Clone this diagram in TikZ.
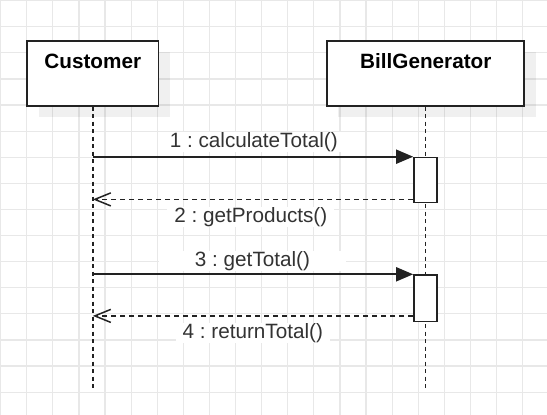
\documentclass[tikz,border=0pt]{standalone}
\usepackage{fontspec}
\setmainfont{Liberation Sans}
\usepackage{xcolor}
\usepackage{tikz}
\usetikzlibrary{arrows.meta, shadows, positioning}
\definecolor{gridgray}{RGB}{232,232,232}
\definecolor{umldark}{RGB}{34,34,34}
\definecolor{labelgray}{RGB}{51,51,51}
\frenchspacing
\tikzset{
  headbox/.style={draw=umldark, line width=1.7pt, fill=white, minimum height=65pt,
      inner sep=0pt, anchor=north,
      drop shadow={shadow xshift=11.5pt, shadow yshift=-11.5pt, fill=black, opacity=0.06}},
  headtext/.style={font=\fontsize{20.7pt}{24pt}\selectfont\bfseries, text=black,
      anchor=base, inner sep=0pt},
  lifeline/.style={umldark, line width=1.5pt, dash pattern=on 4pt off 3.5pt},
  actbar/.style={draw=umldark, line width=1.7pt, fill=white, minimum width=23pt,
      inner sep=0pt, anchor=north},
  callmsg/.style={umldark, line width=1.8pt, -{Triangle[length=17pt, width=14pt]}},
  replymsg/.style={umldark, line width=1.5pt, dash pattern=on 5pt off 4pt,
      -{Straight Barb[length=16pt, width=13pt]}},
  msglabel/.style={font=\fontsize{20.7pt}{24pt}\selectfont, text=labelgray, fill=white,
      anchor=base, inner xsep=7pt, inner ysep=0.5pt}
}

\begin{document}
\begin{tikzpicture}[x=1pt, y=-1pt]
\useasboundingbox (0,0) rectangle (547,415);

% Background grid
\foreach \k in {0,...,20}
  \draw[gridgray, line width=1.2pt] ({0.6+26.1*\k},0) -- ({0.6+26.1*\k},415);
\foreach \k in {0,...,15}
  \draw[gridgray, line width=1.2pt] (0,{0.6+26.1*\k}) -- (547,{0.6+26.1*\k});

% Lifeline heads
\node[headbox, minimum width=131.6pt] (cust) at (92.8,40) {};
\node[headbox, minimum width=197.3pt] (bill) at (425.5,40) {};
\node[headtext] (custname) at (92.8,68.3) {Customer};
\node[headtext] (billname) at (425.8,68.3) {BillGenerator};

% Lifelines
\coordinate (custend) at (92.8,390);
\coordinate (billend) at (425.5,390);
\draw[lifeline] (cust.south) -- (custend);
\draw[lifeline] (bill.south) -- (billend);

% Activation bars
\node[actbar, minimum height=45pt] (act1) at (425.5,156.7) {};
\node[actbar, minimum height=46.4pt] (act2) at (425.5,274.3) {};

% Calls
\coordinate (call1) at (cust.south |- act1.north west);
\coordinate (call3) at (cust.south |- act2.north west);
\draw[callmsg] (call1) -- (act1.north west);
\draw[callmsg] (call3) -- (act2.north west);

% Replies
\coordinate (reply2) at ([yshift=4pt]act1.south west);
\coordinate (reply4) at ([yshift=6.5pt]act2.south west);
\coordinate (reply2end) at (cust.south |- reply2);
\coordinate (reply4end) at (cust.south |- reply4);
\draw[replymsg] (reply2) -- (reply2end);
\draw[replymsg] (reply4) -- (reply4end);

% Message labels
\node[msglabel] (lbl1) at (253.8,147.7) {1 : calculateTotal()};
\node[msglabel] (lbl2) at (250.8,222.3) {2 : getProducts()};
\node[msglabel, minimum width=187pt] (lbl3) at (252.5,266.7) {3 : getTotal()};
\node[msglabel] (lbl4) at (252.8,338) {4 : returnTotal()};

\end{tikzpicture}
\end{document}
